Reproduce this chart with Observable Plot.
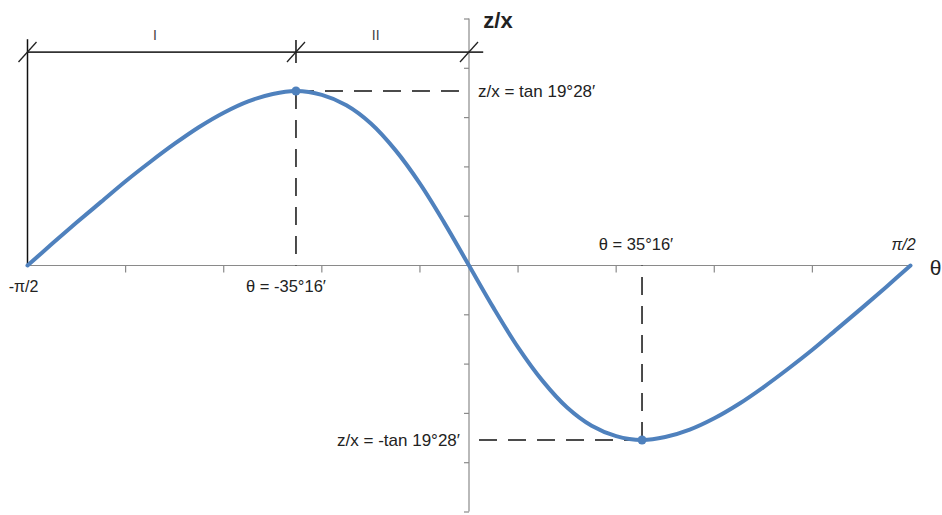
<!DOCTYPE html>
<html>
<head>
<meta charset="utf-8">
<script src="https://cdn.jsdelivr.net/npm/d3@7"></script>
<script src="https://cdn.jsdelivr.net/npm/@observablehq/plot@0.6"></script>
<style>
  html, body { margin: 0; padding: 0; background: #fff; }
  #chart svg { display: block; }
</style>
</head>
<body>
<div id="chart"></div>
<script>
// Angle θ in degrees and the ratio z/x along the curve
const thetaDeg = [-90, -85, -80, -75, -70, -65, -60, -55, -50, -45, -40, -35.27, -30, -25, -20, -15, -10, -5,
                  0, 5, 10, 15, 20, 25, 30, 35.27, 40, 45, 50, 55, 60, 65, 70, 75, 80, 85, 90];
const zx = [0, 0.044, 0.087, 0.129, 0.171, 0.210, 0.247, 0.281, 0.310, 0.333, 0.348, 0.354, 0.346, 0.325, 0.288, 0.234, 0.166, 0.086,
            0, -0.086, -0.166, -0.234, -0.288, -0.325, -0.346, -0.354, -0.348, -0.333, -0.310, -0.281, -0.247, -0.210, -0.171, -0.129, -0.087, -0.044, 0];

// Extremes: θ = ∓35°16′, z/x = ±tan 19°28′
const extremeTheta = [-35.27, 35.27];
const extremeZx = [0.354, -0.354];

// Axis ticks
const xTicks = [-70, -50, -30, -10, 10, 30, 50, 70];
const yTicks = [-0.5, -0.4, -0.3, -0.2, -0.1, 0.1, 0.2, 0.3, 0.4, 0.5];

// Region bracket across the top (I, II)
const bracketLevel = 0.433;
const bracketTop = 0.458;
const bracketStops = [-90, -35.27, 0];
const bracketEnd = 3;
const regionNames = ["I", "II"];
const regionCenters = [-62.6, -17.6];

const curve = thetaDeg.map((t, i) => ({t, v: zx[i]}));
const extremes = extremeTheta.map((t, i) => ({t, v: extremeZx[i]}));

// Short line glyphs used as tick marks
const tickDown = {draw(c) { c.moveTo(0, 0); c.lineTo(0, 7); }};
const tickLeft = {draw(c) { c.moveTo(0, 0); c.lineTo(-5, 0); }};
const slash = {draw(c) { c.moveTo(-9, 10); c.lineTo(9, -10); }};
const stem = {draw(c) { c.moveTo(0, -12); c.lineTo(0, 11); }};

const blue = "#4f81bd";
const axisGrey = "#8a8a8a";
const ink = "#222";
const font = "'Liberation Sans', Arial, sans-serif";
const dash = "18,11";

const chart = Plot.plot({
  width: 942,
  height: 515,
  margin: 0,
  x: {domain: [-90, 90], range: [27, 910], axis: null},
  y: {domain: [-0.5, 0.5], range: [511.5, 18.5], axis: null},
  style: {fontFamily: font, background: "#fff"},
  marks: [
    // axes through the origin
    Plot.ruleY([0], {x1: -90, x2: 90, stroke: axisGrey, strokeWidth: 1.2}),
    Plot.ruleX([0], {y1: -0.5, y2: 0.5, stroke: axisGrey, strokeWidth: 1.2}),
    Plot.dot(xTicks, {x: d => d, y: 0, symbol: tickDown, stroke: axisGrey, fill: "none", strokeWidth: 1.2}),
    Plot.dot(yTicks, {x: 0, y: d => d, symbol: tickLeft, stroke: axisGrey, fill: "none", strokeWidth: 1.2}),

    // region bracket
    Plot.ruleY([bracketLevel], {x1: bracketStops[0], x2: bracketEnd, stroke: "#333", strokeWidth: 1.8}),
    Plot.ruleX([bracketStops[0]], {y1: 0, y2: bracketTop, stroke: "#111", strokeWidth: 1.5}),
    Plot.dot([bracketStops[1]], {x: d => d, y: bracketLevel, symbol: stem, stroke: "#111", fill: "none", strokeWidth: 1.5}),
    Plot.dot(bracketStops, {x: d => d, y: bracketLevel, symbol: slash, stroke: "#222", fill: "none", strokeWidth: 1.3}),
    Plot.text(regionNames, {x: (d, i) => regionCenters[i], y: bracketLevel, text: d => d, dx: -7, dy: -17,
      fontSize: 14, fill: "#444", fontFamily: font}),

    // dashed guides from the extremes to the axes
    Plot.link(extremes, {x1: "t", y1: "v", x2: 0, y2: "v", stroke: "#111", strokeWidth: 1.5, strokeDasharray: dash}),
    Plot.link(extremes, {x1: "t", y1: "v", x2: "t", y2: 0, stroke: "#111", strokeWidth: 1.5, strokeDasharray: dash}),

    // the curve
    Plot.line(curve, {x: "t", y: "v", curve: "catmull-rom", stroke: blue, strokeWidth: 4, strokeLinecap: "round"}),
    Plot.dot(extremes, {x: "t", y: "v", r: 4.5, fill: blue, stroke: "none"}),

    // axis end labels
    Plot.text(["-π/2"], {x: -90, y: 0, text: d => d, dx: -4, dy: 21, fontSize: 16, fill: ink}),
    Plot.text(["π/2"], {x: 90, y: 0, text: d => d, dx: -7, dy: -21, fontSize: 16, fill: ink, fontStyle: "italic"}),
    Plot.text(["θ"], {x: 90, y: 0, text: d => d, dx: 25, dy: 3, fontSize: 21, fill: ink}),
    Plot.text(["z/x"], {x: 0, y: 0.5, text: d => d, dx: 29, dy: 2, fontSize: 22, fontWeight: "bold", fill: ink}),

    // extreme labels
    Plot.text(["θ = -35°16′"], {x: extremeTheta[0], y: 0, text: d => d, dx: -10, dy: 21, fontSize: 16.5, fill: ink}),
    Plot.text(["θ = 35°16′"], {x: extremeTheta[1], y: 0, text: d => d, dx: -6, dy: -21, fontSize: 16.5, fill: ink}),
    Plot.text(["z/x = tan 19°28′"], {x: 0, y: extremeZx[0], text: d => d, dx: 9, dy: 1, textAnchor: "start", fontSize: 17, fill: ink}),
    Plot.text(["z/x = -tan 19°28′"], {x: 0, y: extremeZx[1], text: d => d, dx: -9, dy: 1, textAnchor: "end", fontSize: 17, fill: ink})
  ]
});

document.getElementById("chart").appendChild(chart);
</script>
</body>
</html>
